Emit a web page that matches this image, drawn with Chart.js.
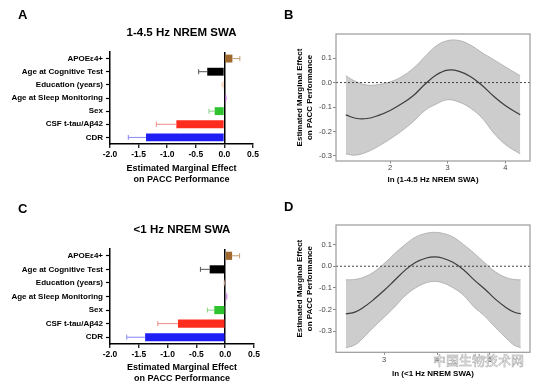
<!DOCTYPE html>
<html>
<head>
<meta charset="utf-8">
<script src="https://cdn.jsdelivr.net/npm/chart.js@4.4.0/dist/chart.umd.min.js"></script>
<style>
  body { margin: 0; background: #fff; font-family: 'Liberation Sans', Arial, sans-serif; }
  #page { position: relative; width: 544px; height: 388px; overflow: hidden; }
  .panel { position: absolute; width: 272px; height: 194px; }
  .letter { position: absolute; font-weight: bold; font-size: 13px; line-height: 16px; color: #000; }
  #mark { position: absolute; left: 433px; top: 351px; font-family: 'Noto Sans CJK SC', sans-serif;
          font-size: 13px; line-height: 18px; color: rgba(255,255,255,0.85); -webkit-text-stroke: 0.5px #a0a0a0; }
</style>
</head>
<body>
<div id="page">
  <div class="panel" style="left:0;top:0"><canvas id="chartA" width="272" height="194"></canvas></div>
  <div class="panel" style="left:272px;top:0"><canvas id="chartB" width="272" height="194"></canvas></div>
  <div class="panel" style="left:0;top:194px"><canvas id="chartC" width="272" height="194"></canvas></div>
  <div class="panel" style="left:272px;top:194px"><canvas id="chartD" width="272" height="194"></canvas></div>
  <div class="letter" style="left:18px;top:7px">A</div>
  <div class="letter" style="left:284px;top:7px">B</div>
  <div class="letter" style="left:18px;top:201px">C</div>
  <div class="letter" style="left:284px;top:199px">D</div>
  <div id="mark">中国生物技术网</div>
</div>
<script>
// ---- data ----
const categories = ['APOEε4+', 'Age at Cognitive Test', 'Education (years)', 'Age at Sleep Monitoring', 'Sex', 'CSF t-tau/Aβ42', 'CDR'];

// panel A: 1-4.5 Hz NREM SWA
const effectA = [0.14, -0.30, -0.02, 0.02, -0.17, -0.84, -1.37];
const errEndA = [0.27, -0.45, -0.04, 0.03, -0.27, -1.19, -1.68];
// panel C: <1 Hz NREM SWA
const effectC = [0.12, -0.27, -0.01, 0.02, -0.19, -0.82, -1.39];
const errEndC = [0.25, -0.43, -0.02, 0.03, -0.31, -1.17, -1.71];

const effectTicks = [-2.0, -1.5, -1.0, -0.5, 0.0, 0.5];

// panel B: marginal effect vs ln(1-4.5 Hz SWA)
const swaB   = [1.23, 1.4, 1.6, 1.8, 2.0, 2.2, 2.4, 2.6, 2.8, 3.0, 3.2, 3.4, 3.6, 3.8, 4.0, 4.26];
const estB   = [-0.132, -0.146, -0.147, -0.134, -0.114, -0.087, -0.054, -0.008, 0.031, 0.051, 0.046, 0.024, -0.012, -0.056, -0.094, -0.132];
const upperB = [0.028, 0.005, -0.010, -0.008, 0.003, 0.024, 0.058, 0.105, 0.150, 0.172, 0.172, 0.153, 0.122, 0.094, 0.065, 0.028];
const lowerB = [-0.292, -0.297, -0.284, -0.260, -0.231, -0.198, -0.160, -0.115, -0.088, -0.070, -0.080, -0.105, -0.146, -0.206, -0.253, -0.292];

// panel D: marginal effect vs ln(<1 Hz SWA)
const swaD   = [2.28, 2.45, 2.6, 2.8, 3.0, 3.2, 3.4, 3.6, 3.8, 3.95, 4.1, 4.3, 4.5, 4.7, 4.9, 5.1, 5.3, 5.45, 5.58];
const estD   = [-0.220, -0.212, -0.192, -0.155, -0.112, -0.065, -0.018, 0.018, 0.038, 0.043, 0.038, 0.018, -0.016, -0.063, -0.105, -0.152, -0.190, -0.211, -0.220];
const upperD = [-0.063, -0.061, -0.052, -0.028, 0.012, 0.058, 0.100, 0.135, 0.152, 0.156, 0.152, 0.135, 0.100, 0.060, 0.016, -0.026, -0.052, -0.061, -0.063];
const lowerD = [-0.376, -0.363, -0.332, -0.282, -0.236, -0.188, -0.136, -0.099, -0.076, -0.070, -0.076, -0.099, -0.134, -0.188, -0.230, -0.282, -0.330, -0.363, -0.376];

// ---- styles ----
const barColors = ['#a0682c', '#000000', '#f4b48c', '#b54ad8', '#2fc42f', '#ff2d1e', '#1f1ff5'];
const errColors = ['#c39a6e', '#555555', '#f3c7ad', '#c98ae6', '#86d686', '#f08a84', '#8686f5'];
const FONT = "'Liberation Sans', Arial, sans-serif";

// one-sided error bars drawn from the end of each bar
const errorBarPlugin = {
  id: 'errorBars',
  afterDatasetsDraw(chart, args, opts) {
    if (!opts.ends) return;
    const ctx = chart.ctx;
    const xs = chart.scales.x;
    chart.getDatasetMeta(0).data.forEach((bar, i) => {
      const xEnd = xs.getPixelForValue(opts.ends[i]);
      ctx.save();
      ctx.strokeStyle = errColors[i];
      ctx.lineWidth = 1;
      ctx.beginPath();
      ctx.moveTo(bar.x, bar.y);
      ctx.lineTo(xEnd, bar.y);
      ctx.moveTo(xEnd, bar.y - 2.5);
      ctx.lineTo(xEnd, bar.y + 2.5);
      ctx.stroke();
      ctx.restore();
    });
  }
};

// grey frame + dotted zero line for the marginal effect panels
const framePlugin = {
  id: 'frame',
  afterDatasetsDraw(chart, args, opts) {
    if (!opts.show) return;
    const {ctx, chartArea: a} = chart;
    const y0 = chart.scales.y.getPixelForValue(0);
    ctx.save();
    ctx.strokeStyle = '#333';
    ctx.lineWidth = 0.9;
    ctx.setLineDash([2, 2]);
    ctx.beginPath();
    ctx.moveTo(a.left, y0);
    ctx.lineTo(a.right, y0);
    ctx.stroke();
    ctx.setLineDash([]);
    ctx.strokeStyle = '#9a9a9a';
    ctx.lineWidth = 1.2;
    ctx.strokeRect(a.left, a.top, a.right - a.left, a.bottom - a.top);
    ctx.restore();
  }
};

function barChart(id, title, values, ends, o) {
  return new Chart(document.getElementById(id), {
    type: 'bar',
    data: {
      labels: categories,
      datasets: [{
        data: values,
        backgroundColor: barColors,
        borderWidth: 0,
        barPercentage: 0.6,
        categoryPercentage: 1
      }]
    },
    options: {
      responsive: false,
      animation: false,
      indexAxis: 'y',
      layout: { padding: { top: 0, right: o.right, bottom: 0, left: 0 } },
      plugins: {
        legend: { display: false },
        tooltip: { enabled: false },
        title: {
          display: true,
          text: title,
          fullSize: false,
          color: '#000',
          font: { family: FONT, size: 11.5, weight: 'bold' },
          padding: { top: o.titleTop, bottom: o.titleBottom }
        },
        errorBars: { ends: ends },
        frame: { show: false }
      },
      scales: {
        x: {
          min: -2,
          max: 0.5,
          afterBuildTicks: s => { s.ticks = effectTicks.map(v => ({ value: v })); },
          afterFit: s => { s.height = o.xHeight; },
          ticks: {
            color: '#000',
            padding: 2,
            font: { family: FONT, size: 8.5, weight: 'bold' },
            callback: v => Number(v).toFixed(1)
          },
          grid: {
            color: c => (c.tick && c.tick.value === 0 ? '#000' : 'rgba(0,0,0,0)'),
            lineWidth: 1.5,
            tickColor: '#000',
            tickWidth: 1.2,
            tickLength: 4
          },
          border: { color: '#000', width: 1.5 },
          title: {
            display: true,
            text: ['Estimated Marginal Effect', 'on PACC Performance'],
            color: '#000',
            font: { family: FONT, size: 9, weight: 'bold', lineHeight: '11px' },
            padding: { top: 0, bottom: o.axisTitleBottom }
          }
        },
        y: {
          afterFit: s => { s.width = 110; },
          ticks: {
            color: '#000',
            padding: 3,
            font: { family: FONT, size: 8, weight: 'bold' }
          },
          grid: {
            drawOnChartArea: false,
            offset: false,
            tickColor: '#000',
            tickWidth: 1.2,
            tickLength: 4
          },
          border: { color: '#000', width: 1.5 }
        }
      }
    },
    plugins: [errorBarPlugin, framePlugin]
  });
}

function effectChart(id, xs, est, upper, lower, o) {
  const pts = arr => arr.map((v, i) => ({ x: xs[i], y: v }));
  return new Chart(document.getElementById(id), {
    type: 'line',
    data: {
      datasets: [
        // band: upper edge filled down to the lower edge (drawn first, underneath)
        { data: pts(upper), order: 3, borderColor: '#a8a8a8', borderWidth: 0.8, backgroundColor: '#cdcdcd', fill: '+1', pointRadius: 0, tension: 0.4 },
        { data: pts(lower), order: 2, borderColor: '#a8a8a8', borderWidth: 0.8, fill: false, pointRadius: 0, tension: 0.4 },
        { data: pts(est), order: 1, borderColor: '#3c3c3c', borderWidth: 1.2, fill: false, pointRadius: 0, tension: 0.4 }
      ]
    },
    options: {
      responsive: false,
      animation: false,
      layout: { padding: { top: o.top, right: 14, bottom: 0, left: 0 } },
      plugins: {
        legend: { display: false },
        tooltip: { enabled: false },
        filler: { drawTime: 'beforeDatasetsDraw' },
        frame: { show: true }
      },
      scales: {
        x: {
          type: 'linear',
          min: o.xMin,
          max: o.xMax,
          afterFit: s => { s.height = o.xHeight; },
          ticks: {
            stepSize: 1,
            includeBounds: false,
            color: '#444',
            padding: o.xPad,
            font: { family: FONT, size: 7.5 }
          },
          grid: { drawOnChartArea: false, tickColor: '#888', tickLength: 2.5 },
          border: { display: false },
          title: {
            display: true,
            text: o.xTitle,
            color: '#000',
            font: { family: FONT, size: 8, weight: 'bold' },
            padding: { top: 0, bottom: 9.9 }
          }
        },
        y: {
          min: o.yMin,
          max: o.yMax,
          afterFit: s => { s.width = 64; },
          ticks: {
            stepSize: 0.1,
            includeBounds: false,
            color: '#444',
            padding: 1,
            font: { family: FONT, size: 7.5 },
            callback: v => Number(v).toFixed(1)
          },
          grid: { drawOnChartArea: false, tickColor: '#888', tickLength: 3 },
          border: { display: false },
          title: {
            display: true,
            text: ['Estimated Marginal Effect', 'on PACC Performance'],
            color: '#000',
            font: { family: FONT, size: 8, weight: 'bold' },
            padding: { top: 23.2, bottom: 0 }
          }
        }
      }
    },
    plugins: [errorBarPlugin, framePlugin]
  });
}

barChart('chartA', '1-4.5 Hz NREM SWA', effectA, errEndA,
  { right: 19, titleTop: 26, titleBottom: 12.2, xHeight: 50, axisTitleBottom: 8.5 });
barChart('chartC', '<1 Hz NREM SWA', effectC, errEndC,
  { right: 18, titleTop: 29, titleBottom: 12.2, xHeight: 44, axisTitleBottom: 4.2 });

effectChart('chartB', swaB, estB, upperB, lowerB,
  { top: 34, xMin: 1.06, xMax: 4.43, yMin: -0.321, yMax: 0.199, xHeight: 33, xPad: 0, xTitle: 'ln (1-4.5 Hz NREM SWA)' });
effectChart('chartD', swaD, estD, upperD, lowerD,
  { top: 31, xMin: 2.094, xMax: 5.755, yMin: -0.397, yMax: 0.19, xHeight: 35.7, xPad: 1, xTitle: 'ln (<1 Hz NREM SWA)' });
</script>
</body>
</html>
